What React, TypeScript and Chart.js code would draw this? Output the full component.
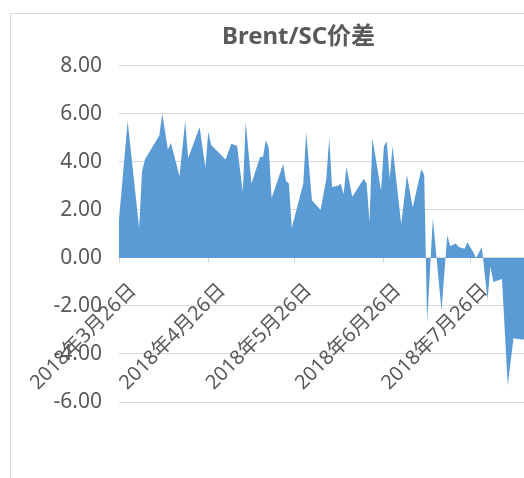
import React, { useEffect, useRef } from 'react';
import { Chart, registerables } from 'chart.js';

Chart.register(...registerables);

const TITLE = 'Brent/SC价差';
const BASE_DATE = '2018-03-26';
const X_END_DATE = '2018-09-08';

const dates = [
  '2018-03-26', '2018-03-29', '2018-04-02', '2018-04-03', '2018-04-04', '2018-04-09', '2018-04-10',
  '2018-04-12', '2018-04-13', '2018-04-16', '2018-04-18', '2018-04-19', '2018-04-23', '2018-04-25',
  '2018-04-26', '2018-04-27', '2018-05-02', '2018-05-04', '2018-05-06', '2018-05-08', '2018-05-09',
  '2018-05-11', '2018-05-14', '2018-05-15', '2018-05-16', '2018-05-17', '2018-05-18', '2018-05-22',
  '2018-05-23', '2018-05-24', '2018-05-25', '2018-05-29', '2018-05-30', '2018-06-01', '2018-06-04',
  '2018-06-06', '2018-06-07', '2018-06-08', '2018-06-10', '2018-06-11', '2018-06-12', '2018-06-13',
  '2018-06-15', '2018-06-19', '2018-06-20', '2018-06-21', '2018-06-22', '2018-06-25', '2018-06-26',
  '2018-06-27', '2018-06-28', '2018-06-29', '2018-07-02', '2018-07-04', '2018-07-06', '2018-07-09',
  '2018-07-10', '2018-07-11', '2018-07-13', '2018-07-16', '2018-07-18', '2018-07-19', '2018-07-21',
  '2018-07-22', '2018-07-24', '2018-07-25', '2018-07-27', '2018-07-28', '2018-07-30', '2018-08-01',
  '2018-08-02', '2018-08-03', '2018-08-06', '2018-08-08', '2018-08-10', '2018-08-13', '2018-08-14',
];

const spread = [
  1.6, 5.7, 1.25, 3.6, 4.1, 5.1, 6.0,
  4.5, 4.8, 3.4, 5.7, 4.15, 5.45, 3.75,
  5.25, 4.7, 4.1, 4.75, 4.67, 2.75, 5.67,
  3.1, 4.2, 4.2, 4.9, 4.6, 2.5, 3.9,
  3.2, 3.1, 1.25, 3.1, 5.25, 2.4, 2.0,
  3.3, 5.0, 2.95, 3.0, 3.1, 2.65, 3.8,
  2.55, 3.3, 3.1, 1.5, 5.0, 2.8, 4.65,
  4.85, 3.3, 4.65, 1.4, 3.45, 2.1, 3.7,
  3.45, -2.7, 1.65, -2.2, 0.95, 0.5, 0.6,
  0.45, 0.38, 0.65, 0.25, 0.0, 0.45, -1.75,
  -0.35, -1.0, -0.88, -5.3, -3.35, -3.4, -3.4,
];

const xTickDates = ['2018-03-26', '2018-04-26', '2018-05-26', '2018-06-26', '2018-07-26'];
const xTickLabels = ['2018年3月26日', '2018年4月26日', '2018年5月26日', '2018年6月26日', '2018年7月26日'];

const Y_MIN = -6;
const Y_MAX = 8;
const Y_STEP = 2;

const FONT = "'Noto Sans', 'Noto Sans CJK SC', sans-serif";
const TEXT_COLOR = '#595959';
const GRID_COLOR = '#d9d9d9';
const AREA_COLOR = '#5b9bd5';

const dayOffset = (s: string) =>
  Math.round((Date.parse(s + 'T00:00:00Z') - Date.parse(BASE_DATE + 'T00:00:00Z')) / 86400000);

export default function App() {
  const ref = useRef<HTMLCanvasElement | null>(null);

  useEffect(() => {
    if (!ref.current) return;
    const tickValues = xTickDates.map(dayOffset);
    const chart = new Chart(ref.current, {
      type: 'line',
      data: {
        datasets: [
          {
            label: TITLE,
            data: dates.map((d, i) => ({ x: dayOffset(d), y: spread[i] })),
            fill: 'origin',
            backgroundColor: AREA_COLOR,
            borderColor: 'rgba(0,0,0,0)',
            borderWidth: 0,
            pointRadius: 0,
            pointHoverRadius: 0,
            tension: 0,
          },
        ],
      },
      options: {
        responsive: false,
        animation: false,
        layout: { padding: { left: 0, right: 28, top: 0, bottom: 76 } },
        plugins: {
          legend: { display: false },
          tooltip: { enabled: false },
          title: {
            display: true,
            text: TITLE,
            color: TEXT_COLOR,
            font: { family: FONT, size: 24, weight: 'bold' },
            padding: { top: 23, bottom: 14 },
          },
        },
        scales: {
          x: {
            type: 'linear',
            min: 0,
            max: dayOffset(X_END_DATE),
            position: { y: 0 } as any,
            afterBuildTicks: (s: any) => {
              s.ticks = tickValues.map((v) => ({ value: v }));
            },
            afterFit: (s: any) => {
              s.paddingLeft = 0;
              s.paddingRight = 0;
              s.paddingTop = 0;
              s.paddingBottom = 0;
            },
            ticks: {
              autoSkip: false,
              minRotation: 45,
              maxRotation: 45,
              padding: 16,
              labelOffset: 14,
              color: TEXT_COLOR,
              font: { family: FONT, size: 20 },
              callback: (v: any) => {
                const i = tickValues.indexOf(Number(v));
                return i >= 0 ? xTickLabels[i] : '';
              },
            },
            grid: { drawOnChartArea: false, drawTicks: true, tickLength: 5, color: GRID_COLOR },
            border: { display: true, color: GRID_COLOR, width: 1 },
          },
          y: {
            min: Y_MIN,
            max: Y_MAX,
            afterFit: (s: any) => {
              s.width = 119;
            },
            ticks: {
              stepSize: Y_STEP,
              padding: 17,
              color: TEXT_COLOR,
              font: { family: FONT, size: 21 },
              callback: (v: any) => Number(v).toFixed(2),
            },
            grid: { color: GRID_COLOR, drawTicks: false },
            border: { display: false },
          },
        },
      },
    });
    return () => chart.destroy();
  }, []);

  return (
    <div
      style={{
        position: 'fixed',
        left: 0,
        top: 0,
        width: 524,
        height: 478,
        overflow: 'hidden',
        background: '#fff',
      }}
    >
      <div
        style={{
          position: 'absolute',
          left: 10,
          top: 13,
          width: 700,
          height: 700,
          border: '1px solid #d9d9d9',
        }}
      />
      <canvas
        ref={ref}
        width={625}
        height={478}
        style={{ position: 'absolute', left: 0, top: 0, width: 625, height: 478 }}
      />
    </div>
  );
}
